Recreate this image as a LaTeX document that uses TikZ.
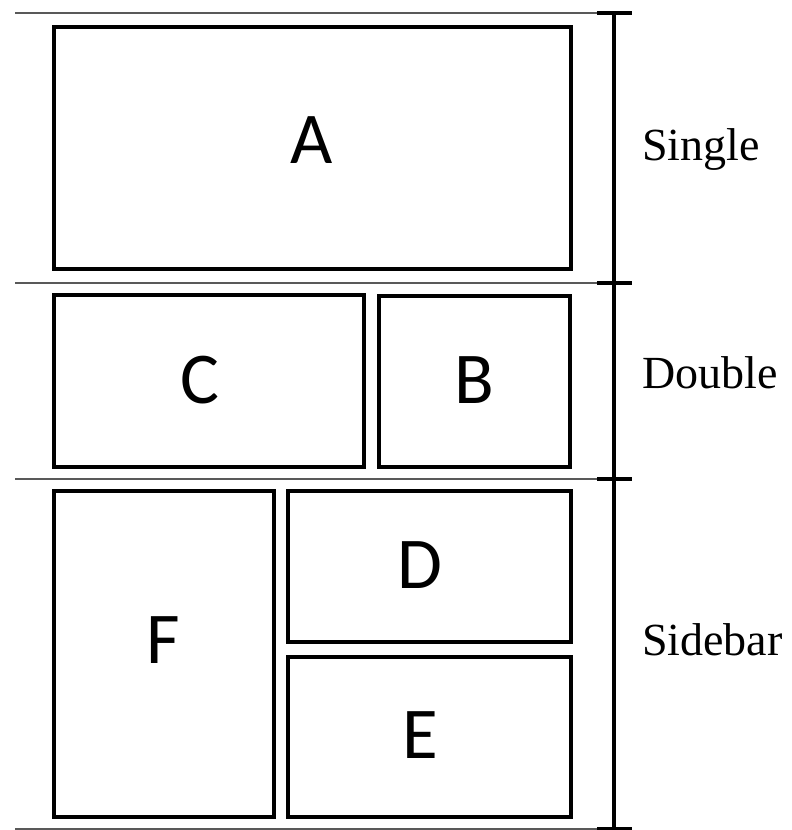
\documentclass[tikz,border=0pt]{standalone}
\usepackage{fontspec}
\setmainfont{Liberation Serif}
\newfontfamily\letterfont{Carlito}
\begin{document}
\begin{tikzpicture}[x=1pt,y=-1pt,
  panel/.style={draw=none,inner sep=0pt,outer sep=0pt},
  border/.style={draw=black,line width=4pt},
  sep/.style={draw=black!65,line width=1.6pt},
  ruler/.style={draw=black,line width=4pt},
  letter/.style={font=\letterfont\fontsize{73}{73}\selectfont,inner sep=0pt},
  kind/.style={font=\fontsize{46}{46}\selectfont,inner sep=0pt,anchor=base west}]
\useasboundingbox (0,0) rectangle (792,830);
% panels
\node[panel,minimum width=517pt,minimum height=242pt] (pA) at (312.5,148) {};
\node[panel,minimum width=310pt,minimum height=172pt] (pC) at (209,381) {};
\node[panel,minimum width=191pt,minimum height=171pt] (pB) at (474.5,381.5) {};
\node[panel,minimum width=220pt,minimum height=326pt] (pF) at (164,654) {};
\node[panel,minimum width=283pt,minimum height=151pt] (pD) at (429.5,566.5) {};
\node[panel,minimum width=283pt,minimum height=160pt] (pE) at (429.5,737) {};
\foreach \p in {pA,pC,pB,pF,pD,pE}
  \draw[border] (\p.north west) rectangle (\p.south east);
% letters
\node[letter] (lA) at (312,140) {A};
\node[letter] (lC) at (200,380) {C};
\node[letter] (lB) at (474,380) {B};
\node[letter] (lD) at (420,565) {D};
\node[letter] (lF) at (163,640) {F};
\node[letter] (lE) at (420,735) {E};
% separators
\coordinate (s1l) at (15,13);  \coordinate (s1r) at (597,13);
\coordinate (s2l) at (15,283); \coordinate (s2r) at (597,283);
\coordinate (s3l) at (15,479); \coordinate (s3r) at (597,479);
\coordinate (s4l) at (15,829); \coordinate (s4r) at (597,829);
\draw[sep] (s1l) -- (s1r);
\draw[sep] (s2l) -- (s2r);
\draw[sep] (s3l) -- (s3r);
\draw[sep] (s4l) -- (s4r);
% ruler
\coordinate (rt) at (614,13); \coordinate (rb) at (614,829);
\draw[ruler] (rt) -- (rb);
\foreach \y in {13,283,479,829}
  \draw[ruler] (597,\y) -- (632,\y);
% kinds
\node[kind] (kS) at (642,160) {Single};
\node[kind] (kD) at (642,388) {Double};
\node[kind] (kB) at (642,655) {Sidebar};
\end{tikzpicture}
\end{document}
